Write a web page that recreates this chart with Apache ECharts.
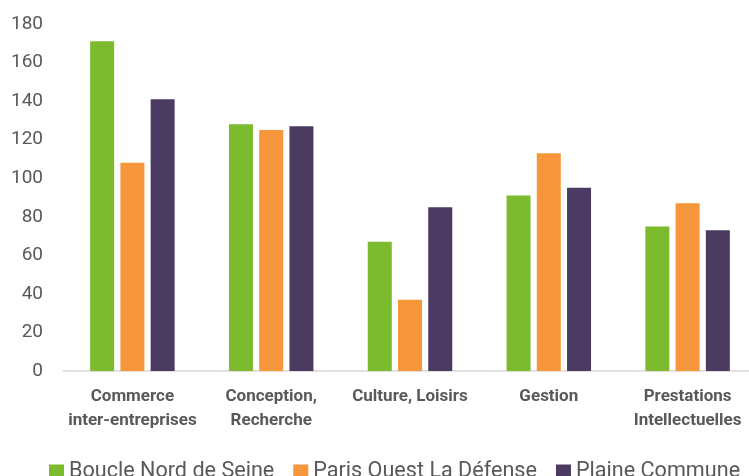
<!DOCTYPE html>
<html>
<head>
<meta charset="utf-8">
<script src="https://cdn.jsdelivr.net/npm/echarts@6/dist/echarts.min.js"></script>
<style>
  html, body { margin: 0; padding: 0; background: #fff; overflow: hidden; }
  /* le graphique d'origine déborde un peu à droite */
  #chart { width: 757px; height: 476px; }
</style>
</head>
<body>
<div id="chart"></div>
<script>
// données
var categories = ['Commerce\ninter-entreprises', 'Conception,\nRecherche', 'Culture, Loisirs', 'Gestion', 'Prestations\nIntellectuelles']
var boucleNord = [171, 128, 67, 91, 75]
var parisOuest = [108, 125, 37, 113, 87]
var plaineCommune = [141, 127, 85, 95, 73]
var seriesNames = ['Boucle Nord de Seine', 'Paris Ouest La Défense', 'Plaine Commune']

var font = "'Roboto', sans-serif"

var myChart = echarts.init(document.getElementById('chart'))

var options = {
  color: ['#7bbb2d', '#f7963a', '#4b3a62'],
  textStyle: { fontFamily: font },
  legend: {
    data: seriesNames,
    left: 49,
    top: 461,
    padding: 0,
    itemWidth: 15,
    itemHeight: 15,
    itemGap: 19,
    icon: 'rect',
    textStyle: { fontSize: 21.6, color: '#595959', fontFamily: font }
  },
  grid: {
    left: 63,
    right: 0,
    top: 24,
    bottom: 105,
    containLabel: false
  },
  xAxis: {
    type: 'category',
    data: categories,
    axisLine: { lineStyle: { color: '#d9d9d9', width: 1.5 } },
    axisTick: { show: false },
    axisLabel: {
      fontSize: 17,
      fontWeight: 'bold',
      color: '#595959',
      lineHeight: 24,
      margin: 14,
      interval: 0
    }
  },
  yAxis: {
    type: 'value',
    min: 0,
    max: 180,
    interval: 20,
    splitLine: { show: false },
    axisLine: { show: false },
    axisTick: { show: false },
    axisLabel: { fontSize: 19, color: '#595959', margin: 20 }
  },
  series: [
    { name: seriesNames[0], type: 'bar', data: boucleNord, barWidth: 24, barGap: '26%', barCategoryGap: '38%' },
    { name: seriesNames[1], type: 'bar', data: parisOuest, barWidth: 24, barGap: '26%' },
    { name: seriesNames[2], type: 'bar', data: plaineCommune, barWidth: 24, barGap: '26%' }
  ]
}

myChart.setOption(options)
</script>
</body>
</html>
